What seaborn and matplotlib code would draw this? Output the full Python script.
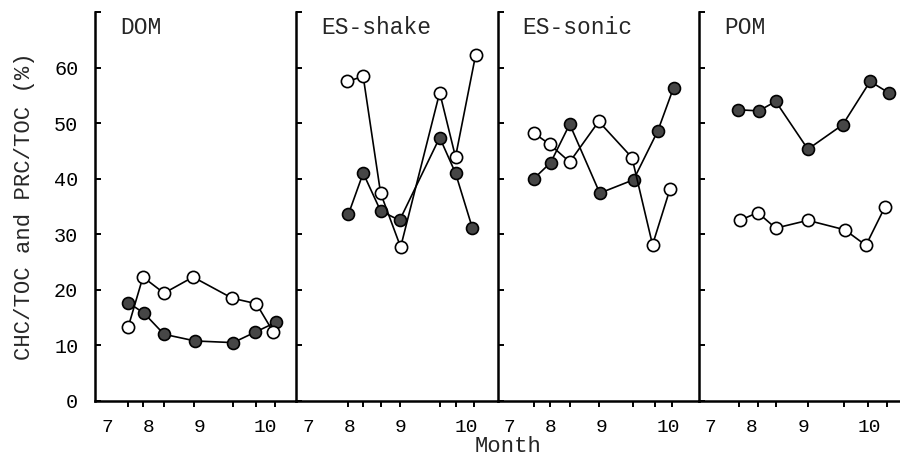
import numpy as np
import pandas as pd
import matplotlib
matplotlib.use("Agg")
import matplotlib.pyplot as plt
import seaborn as sns

# ---- data (x = sampling date in decimal months, y = %) ----
PANELS = ["DOM", "ES-shake", "ES-sonic", "POM"]

DOM_X_FILLED = [7.40, 7.70, 8.08, 8.67, 9.39, 9.81, 10.21]
DOM_FILLED = [17.7, 15.8, 12.0, 10.8, 10.5, 12.4, 14.2]
DOM_X_OPEN = [7.40, 7.68, 8.08, 8.63, 9.37, 9.83, 10.15]
DOM_OPEN = [13.3, 22.3, 19.4, 22.3, 18.5, 17.5, 12.4]

SHAKE_X_FILLED = [7.76, 8.04, 8.37, 8.73, 9.49, 9.79, 10.11]
SHAKE_FILLED = [33.6, 41.0, 34.2, 32.5, 47.4, 41.0, 31.1]
SHAKE_X_OPEN = [7.74, 8.04, 8.37, 8.75, 9.49, 9.79, 10.17]
SHAKE_OPEN = [57.5, 58.4, 37.4, 27.7, 55.5, 43.9, 62.2]

SONIC_X_FILLED = [7.46, 7.78, 8.14, 8.71, 9.35, 9.81, 10.11]
SONIC_FILLED = [40.0, 42.9, 49.8, 37.4, 39.8, 48.6, 56.4]
SONIC_X_OPEN = [7.46, 7.76, 8.14, 8.69, 9.32, 9.71, 10.04]
SONIC_OPEN = [48.2, 46.2, 43.0, 50.3, 43.8, 28.1, 38.1]

POM_X_FILLED = [7.51, 7.91, 8.23, 8.84, 9.50, 10.02, 10.38]
POM_FILLED = [52.4, 52.2, 53.9, 45.3, 49.7, 57.5, 55.4]
POM_X_OPEN = [7.55, 7.89, 8.23, 8.84, 9.54, 9.94, 10.30]
POM_OPEN = [32.5, 33.9, 31.1, 32.5, 30.8, 28.0, 34.9]

MONTH_LABELS = ["7", "8", "9", "10"]
MONTH_LABEL_POS = [7.0, 7.78, 8.75, 10.0]
Y_TICKS = [0, 10, 20, 30, 40, 50, 60]

series = {
    "DOM": (DOM_X_FILLED, DOM_FILLED, DOM_X_OPEN, DOM_OPEN),
    "ES-shake": (SHAKE_X_FILLED, SHAKE_FILLED, SHAKE_X_OPEN, SHAKE_OPEN),
    "ES-sonic": (SONIC_X_FILLED, SONIC_FILLED, SONIC_X_OPEN, SONIC_OPEN),
    "POM": (POM_X_FILLED, POM_FILLED, POM_X_OPEN, POM_OPEN),
}

sns.set_style("ticks")
FONT = ["Liberation Mono", "DejaVu Sans Mono"]
plt.rcParams["font.family"] = FONT

fig = plt.figure(figsize=(9.0, 4.59), dpi=100)
gs = fig.add_gridspec(1, 4, left=0.1056, right=1.0, bottom=0.1264, top=0.974, wspace=0)
axes = [fig.add_subplot(gs[0, i]) for i in range(4)]

for i, (ax, name) in enumerate(zip(axes, PANELS)):
    xf, yf, xo, yo = series[name]
    sns.lineplot(x=xf, y=yf, ax=ax, color="black", linewidth=1.2, marker="o",
                 markersize=8.6, markerfacecolor="#464646", markeredgecolor="black",
                 markeredgewidth=1.2, sort=False, zorder=3)
    sns.lineplot(x=xo, y=yo, ax=ax, color="black", linewidth=1.2, marker="o",
                 markersize=8.8, markerfacecolor="white", markeredgecolor="black",
                 markeredgewidth=1.2, sort=False, zorder=3)
    ax.set_xlim(6.772, 10.586)
    ax.set_ylim(0, 70)
    for s in ["top", "right"]:
        ax.spines[s].set_visible(False)
    for s in ["left", "bottom"]:
        ax.spines[s].set_linewidth(1.8)
        ax.spines[s].set_color("black")
    # y ticks inward, including the serif at top
    ax.set_yticks(Y_TICKS + [70])
    ax.tick_params(axis="y", direction="in", length=4, width=1.4, colors="black")
    if i == 0:
        ax.set_yticklabels([str(t) for t in Y_TICKS] + [""], fontsize=14.5)
        ax.tick_params(axis="y", pad=12)
    else:
        ax.set_yticklabels([])
    # x: month labels (no tick line) + minor ticks at sampling dates
    ax.set_xticks(MONTH_LABEL_POS)
    ax.set_xticklabels(MONTH_LABELS, fontsize=14)
    ax.tick_params(axis="x", which="major", length=0, pad=13, colors="black")
    ticks = [(a + b) / 2 for a, b in zip(xf, xo)]
    ax.set_xticks(ticks, minor=True)
    ax.tick_params(axis="x", which="minor", direction="out", length=4.5, width=1.4,
                   colors="black")
    ax.set_xlabel("")
    ax.set_ylabel("")
    ax.text(0.125, 0.99, name, transform=ax.transAxes, fontsize=16.5,
            ha="left", va="top", family=FONT)

axes[0].set_ylabel("CHC/TOC and PRC/TOC (%)", fontsize=16, labelpad=14)
fig.text(0.565, 0.004, "Month", ha="center", va="bottom", fontsize=16, family=FONT)

fig.savefig("out.png", dpi=100)
